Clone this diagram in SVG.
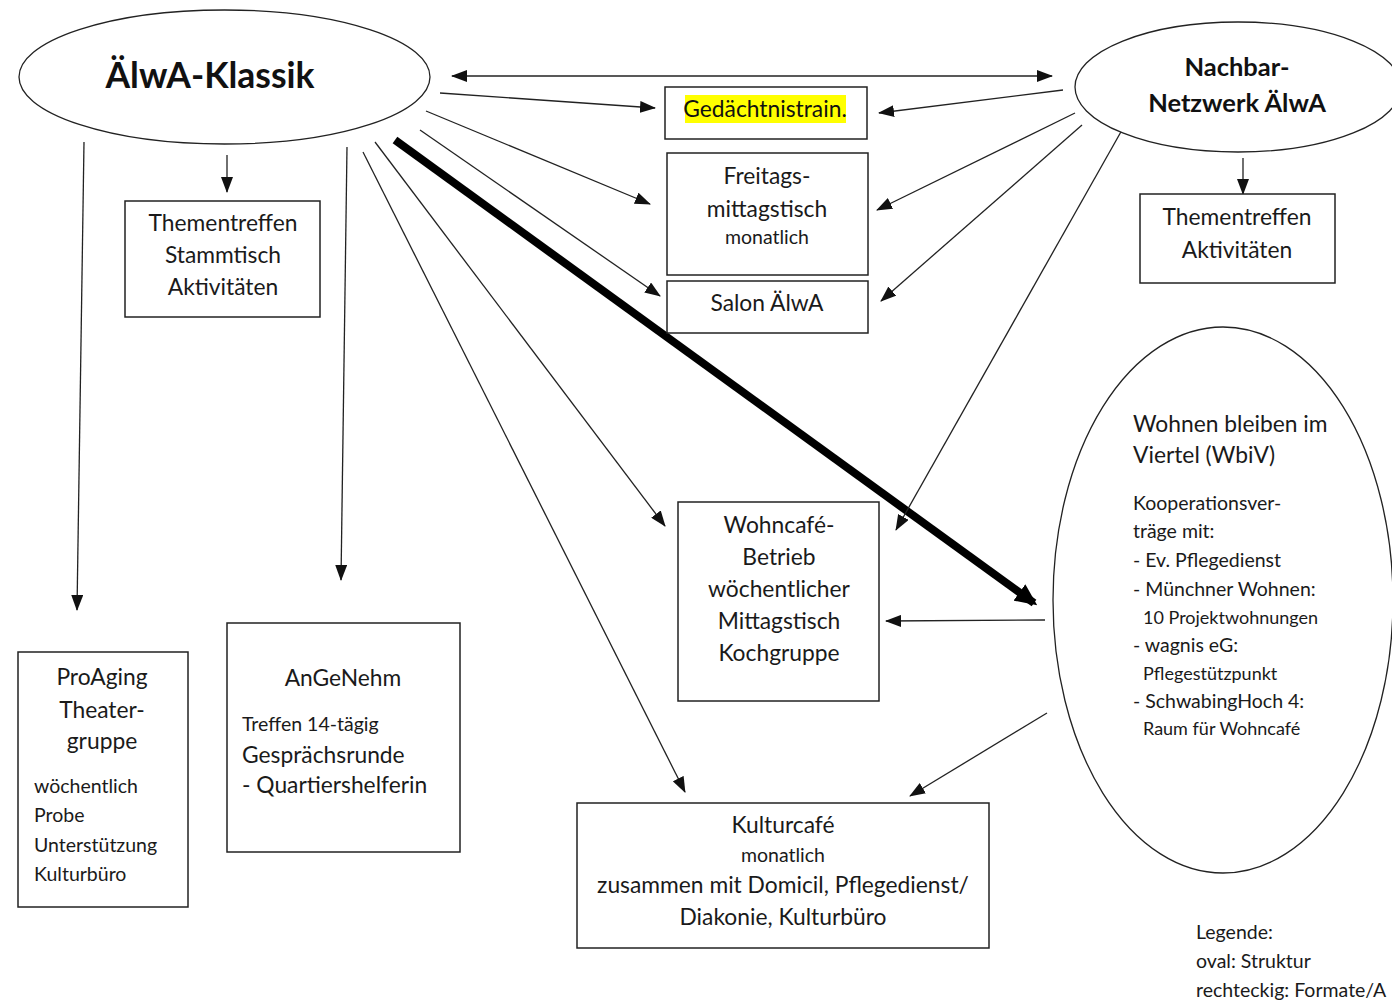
<svg xmlns="http://www.w3.org/2000/svg" width="1392" height="1000" viewBox="0 0 1392 1000">
<style>
text{font-family:Lato,"Open Sans","Liberation Sans",sans-serif;fill:#1a1a1a;}
.b{font-size:22.8px;}
.s{font-size:19.5px;}
.xs{font-size:18px;}
.c{text-anchor:middle;}
.box{fill:#fff;stroke:#222;stroke-width:1.5;}
.ov{fill:#fff;stroke:#222;stroke-width:1.3;}
.ln{stroke:#222;stroke-width:1.3;fill:none;marker-end:url(#ah);}
</style>
<defs>
<marker id="ah" markerUnits="userSpaceOnUse" markerWidth="16" markerHeight="12" refX="15" refY="6" orient="auto"><path d="M0,0 L16,6 L0,12 Z" fill="#111"/></marker>
<marker id="ahs" markerUnits="userSpaceOnUse" markerWidth="16" markerHeight="12" refX="1" refY="6" orient="auto"><path d="M16,0 L0,6 L16,12 Z" fill="#111"/></marker>
<marker id="ahb" markerUnits="userSpaceOnUse" markerWidth="22" markerHeight="20" refX="18" refY="10" orient="auto"><path d="M0,0 L22,10 L0,20 Z" fill="#000"/></marker>
</defs>
<rect width="1392" height="1000" fill="#fff"/>

<g id="connectors">
<line class="ln" x1="452" y1="76" x2="1052" y2="76" marker-start="url(#ahs)"/>
<line class="ln" x1="440" y1="93" x2="655" y2="108"/>
<line class="ln" x1="426" y1="111" x2="650" y2="204"/>
<line class="ln" x1="420" y1="130" x2="660" y2="296"/>
<line x1="395" y1="140" x2="1034" y2="603" stroke="#000" stroke-width="8" marker-end="url(#ahb)"/>
<line class="ln" x1="375" y1="142" x2="665" y2="526"/>
<line class="ln" x1="363" y1="152" x2="685" y2="792"/>
<line class="ln" x1="227" y1="155" x2="227" y2="192"/>
<line class="ln" x1="84" y1="142" x2="77" y2="610"/>
<line class="ln" x1="347" y1="147" x2="341" y2="580"/>
<line class="ln" x1="1063" y1="90" x2="879" y2="113"/>
<line class="ln" x1="1075" y1="113" x2="877" y2="210"/>
<line class="ln" x1="1082" y1="125" x2="881" y2="301"/>
<line class="ln" x1="1122" y1="130" x2="896" y2="530"/>
<line class="ln" x1="1243" y1="158" x2="1243" y2="194"/>
<line class="ln" x1="1045" y1="620" x2="886" y2="621"/>
<line class="ln" x1="1047" y1="713" x2="910" y2="796"/>
</g>

<g id="klassik">
<ellipse class="ov" cx="224.5" cy="77" rx="205.5" ry="67"/>
<text x="210" y="88" class="c" style="font-size:35.5px;font-weight:bold;fill:#111">ÄlwA-Klassik</text>
</g>

<g id="nachbar">
<ellipse class="ov" cx="1238" cy="87" rx="163" ry="65"/>
<text x="1237" y="76" class="c" style="font-size:25.5px;font-weight:bold;fill:#111">Nachbar-</text>
<text x="1237" y="112" class="c" style="font-size:25.5px;font-weight:bold;fill:#111">Netzwerk ÄlwA</text>
</g>

<g id="themen-links">
<rect class="box" x="125" y="201" width="195" height="116"/>
<text x="223" y="231" class="b c">Thementreffen</text>
<text x="223" y="263" class="b c">Stammtisch</text>
<text x="223" y="295" class="b c">Aktivitäten</text>
</g>

<g id="themen-rechts">
<rect class="box" x="1140" y="194" width="195" height="89"/>
<text x="1237" y="225" class="b c">Thementreffen</text>
<text x="1237" y="258" class="b c">Aktivitäten</text>
</g>

<g id="gedaechtnis">
<rect class="box" x="665" y="87" width="202" height="52"/>
<rect x="685" y="95" width="161" height="28" fill="#ffff00"/>
<text x="765" y="117" class="b c" style="fill:#111">Gedächtnistrain.</text>
</g>

<g id="freitag">
<rect class="box" x="667" y="153" width="201" height="122"/>
<text x="767" y="184" class="b c">Freitags-</text>
<text x="767" y="217" class="b c">mittagstisch</text>
<text x="767" y="244" class="s c">monatlich</text>
</g>

<g id="salon">
<rect class="box" x="667" y="281" width="201" height="52"/>
<text x="767" y="311" class="b c">Salon ÄlwA</text>
</g>

<g id="wbiv">
<ellipse class="ov" cx="1223" cy="600" rx="170" ry="273"/>
<text x="1133" y="432" class="b">Wohnen bleiben im</text>
<text x="1133" y="463" class="b">Viertel (WbiV)</text>
<text x="1133" y="510" class="s">Kooperationsver-</text>
<text x="1133" y="538" class="s">träge mit:</text>
<text x="1133" y="567" class="s">- Ev. Pflegedienst</text>
<text x="1133" y="596" class="s">- Münchner Wohnen:</text>
<text x="1143" y="624" class="xs">10 Projektwohnungen</text>
<text x="1133" y="652" class="s">- wagnis eG:</text>
<text x="1143" y="680" class="xs">Pflegestützpunkt</text>
<text x="1133" y="708" class="s">- SchwabingHoch 4:</text>
<text x="1143" y="735" class="xs">Raum für Wohncafé</text>
</g>

<g id="proaging">
<rect class="box" x="18" y="652" width="170" height="255"/>
<text x="102" y="685" class="b c">ProAging</text>
<text x="102" y="718" class="b c">Theater-</text>
<text x="102" y="749" class="b c">gruppe</text>
<text x="34" y="793" class="s">wöchentlich</text>
<text x="34" y="822" class="s">Probe</text>
<text x="34" y="852" class="s">Unterstützung</text>
<text x="34" y="881" class="s">Kulturbüro</text>
</g>

<g id="angenehm">
<rect class="box" x="227" y="623" width="233" height="229"/>
<text x="343" y="686" class="b c">AnGeNehm</text>
<text x="242" y="731" class="s">Treffen 14-tägig</text>
<text x="242" y="763" class="b">Gesprächsrunde</text>
<text x="242" y="793" class="b">- Quartiershelferin</text>
</g>

<g id="wohncafe">
<rect class="box" x="678" y="502" width="201" height="199"/>
<text x="779" y="533" class="b c">Wohncafé-</text>
<text x="779" y="565" class="b c">Betrieb</text>
<text x="779" y="597" class="b c">wöchentlicher</text>
<text x="779" y="629" class="b c">Mittagstisch</text>
<text x="779" y="661" class="b c">Kochgruppe</text>
</g>

<g id="kulturcafe">
<rect class="box" x="577" y="803" width="412" height="145"/>
<text x="783" y="833" class="b c">Kulturcafé</text>
<text x="783" y="862" class="s c">monatlich</text>
<text x="783" y="893" class="b c">zusammen mit Domicil, Pflegedienst/</text>
<text x="783" y="925" class="b c">Diakonie, Kulturbüro</text>
</g>

<g id="legende">
<text x="1196" y="939" class="s">Legende:</text>
<text x="1196" y="968" class="s">oval: Struktur</text>
<text x="1196" y="997" class="s">rechteckig: Formate/A</text>
</g>
</svg>
